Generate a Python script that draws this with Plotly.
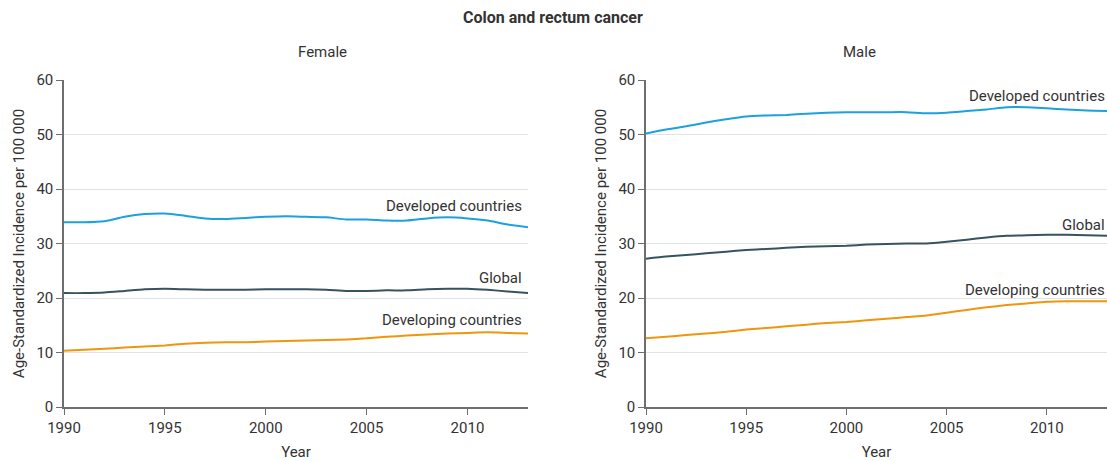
import plotly.graph_objects as go

W, H = 1107, 461

_BLUE = "#1aa1de"
_SLATE = "#36535f"
_ORANGE = "#f0960c"
_GRID = "#e3e3e3"
_AXIS = "#6e6e6e"
_TEXT = "#333333"
_FONT = "Roboto, Arial, sans-serif"

years = list(range(1990, 2014))

female_developed = [33.9, 33.9, 34.1, 34.9, 35.4, 35.5, 35.1, 34.6, 34.5, 34.7, 34.9, 35.0,
                    34.9, 34.8, 34.4, 34.4, 34.2, 34.2, 34.6, 34.8, 34.6, 34.2, 33.5, 33.0]
female_global = [20.9, 20.9, 21.0, 21.3, 21.6, 21.7, 21.6, 21.5, 21.5, 21.5, 21.6, 21.6,
                 21.6, 21.5, 21.3, 21.3, 21.4, 21.4, 21.6, 21.7, 21.7, 21.5, 21.2, 20.9]
female_developing = [10.3, 10.5, 10.7, 10.9, 11.1, 11.3, 11.6, 11.8, 11.9, 11.9, 12.0, 12.1,
                     12.2, 12.3, 12.4, 12.6, 12.9, 13.1, 13.3, 13.5, 13.6, 13.7, 13.6, 13.5]

male_developed = [50.2, 50.9, 51.5, 52.2, 52.8, 53.3, 53.5, 53.6, 53.8, 54.0, 54.1, 54.1,
                  54.1, 54.1, 53.9, 54.0, 54.3, 54.6, 55.0, 55.0, 54.8, 54.6, 54.4, 54.3]
male_global = [27.2, 27.6, 27.9, 28.2, 28.5, 28.8, 29.0, 29.2, 29.4, 29.5, 29.6, 29.8,
               29.9, 30.0, 30.0, 30.3, 30.7, 31.1, 31.4, 31.5, 31.6, 31.6, 31.5, 31.4]
male_developing = [12.6, 12.9, 13.2, 13.5, 13.8, 14.2, 14.5, 14.8, 15.1, 15.4, 15.6, 15.9,
                   16.2, 16.5, 16.8, 17.3, 17.8, 18.3, 18.7, 19.0, 19.3, 19.4, 19.4, 19.4]

series_names = ["Developed countries", "Global", "Developing countries"]
series_colors = [_BLUE, _SLATE, _ORANGE]
female_label_y = [36.9, 23.7, 16.0]
male_label_y = [57.1, 33.4, 21.5]

x_ticks = [1990, 1995, 2000, 2005, 2010]
y_ticks = [0, 10, 20, 30, 40, 50, 60]

fig = go.Figure()

panels = [
    ("x", "y", [female_developed, female_global, female_developing], female_label_y, -4),
    ("x2", "y2", [male_developed, male_global, male_developing], male_label_y, 0),
]

for xa, ya, data, label_y, shift in panels:
    for name, color, vals, ly in zip(series_names, series_colors, data, label_y):
        fig.add_trace(go.Scatter(
            x=years, y=vals, mode="lines", name=name, xaxis=xa, yaxis=ya,
            line=dict(color=color, width=2, shape="spline", smoothing=0.6),
            showlegend=False, hoverinfo="x+y",
        ))
        fig.add_annotation(
            x=years[-1], y=ly, xref=xa, yref=ya, text=name, showarrow=False,
            xanchor="right", yanchor="middle", xshift=shift,
            font=dict(size=15, color=_TEXT),
        )

axis_common = dict(
    showgrid=False, zeroline=False, showline=True, linecolor=_AXIS, linewidth=1.5,
    ticks="outside", ticklen=6, tickcolor=_AXIS, tickfont=dict(size=15, color=_TEXT),
    automargin=False,
)
xaxis_common = dict(axis_common, range=[1990, 2013], tickvals=x_ticks,
                    title=dict(text="Year", font=dict(size=15, color=_TEXT), standoff=12))
yaxis_common = dict(axis_common, range=[0, 60], tickvals=y_ticks,
                    showgrid=True, gridcolor=_GRID, gridwidth=1,
                    title=dict(text="Age-Standardized Incidence per 100 000",
                               font=dict(size=15, color=_TEXT), standoff=8))


def px_x(v):
    return v / W


def px_y(v):
    return 1 - v / H


y_dom = [px_y(407), px_y(80)]
fig.update_layout(
    width=W, height=H,
    margin=dict(l=0, r=0, t=0, b=0, autoexpand=False),
    paper_bgcolor="white", plot_bgcolor="white",
    font=dict(family=_FONT, size=15, color=_TEXT),
    xaxis=dict(xaxis_common, domain=[px_x(64), px_x(528)], anchor="y"),
    yaxis=dict(yaxis_common, domain=y_dom, anchor="x"),
    xaxis2=dict(xaxis_common, domain=[px_x(646), 1.0], anchor="y2"),
    yaxis2=dict(yaxis_common, domain=y_dom, anchor="x2"),
)

# titles
fig.add_annotation(x=px_x(553), y=px_y(17), xref="paper", yref="paper", showarrow=False,
                   text="<b>Colon and rectum cancer</b>", font=dict(size=16, color=_TEXT),
                   yanchor="middle")
fig.add_annotation(x=px_x(296), y=px_y(52), xref="paper", yref="paper", showarrow=False,
                   text="Female", font=dict(size=15, color=_TEXT), yanchor="middle")
fig.add_annotation(x=px_x(878), y=px_y(52), xref="paper", yref="paper", showarrow=False,
                   text="Male", font=dict(size=15, color=_TEXT), yanchor="middle")

# drop the default body margin so the figure fills the window exactly
fig.write_html(
    "out.html",
    config={"displayModeBar": False},
    post_script="document.body.style.margin='0';document.body.style.overflow='hidden';",
)
